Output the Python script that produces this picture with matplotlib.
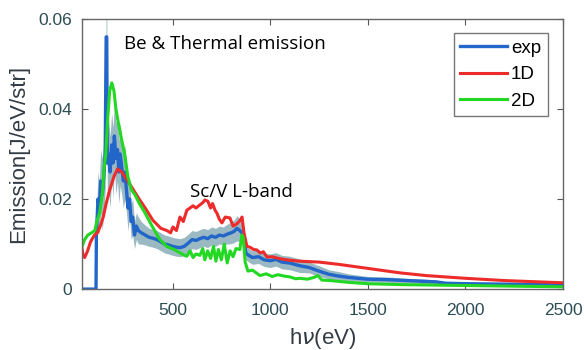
import numpy as np
import matplotlib
matplotlib.use("Agg")
import matplotlib.pyplot as plt

# measured spectrum (exp) and its error band
exp_x = [35, 108, 110, 118, 125, 132, 140, 148, 155, 160, 163, 166, 172, 180, 188, 195, 202, 210,
         218, 225, 232, 240, 248, 256, 264, 272, 280, 288, 296, 305, 315, 325, 340, 360, 380, 400,
         420, 440, 460, 480, 500, 520, 540, 560, 580, 600, 620, 640, 660, 680, 700, 720, 740, 760,
         780, 800, 815, 830, 845, 855, 865, 875, 890, 910, 940, 970, 1000, 1030, 1060, 1100, 1150,
         1200, 1250, 1300, 1350, 1400, 1500, 1600, 1700, 1800, 1850, 1900, 2000, 2200, 2500]
exp_y = [0, 0, 0.012, 0.020, 0.018, 0.024, 0.021, 0.025, 0.030, 0.056, 0.056, 0.028, 0.030, 0.026,
         0.032, 0.028, 0.034, 0.029, 0.031, 0.026, 0.030, 0.027, 0.024, 0.026, 0.022, 0.018, 0.020,
         0.015, 0.016, 0.012, 0.014, 0.013, 0.0125, 0.012, 0.0115, 0.0113, 0.011, 0.0105, 0.010,
         0.0098, 0.0095, 0.0093, 0.0092, 0.0095, 0.0102, 0.011, 0.0108, 0.0112, 0.0115, 0.0112,
         0.0118, 0.0115, 0.012, 0.0118, 0.0122, 0.0125, 0.0128, 0.0135, 0.013, 0.0125, 0.012,
         0.008, 0.0075, 0.007, 0.0072, 0.0065, 0.0063, 0.0066, 0.006, 0.0058, 0.0052, 0.0048,
         0.004, 0.0033, 0.0029, 0.0026, 0.0022, 0.0021, 0.0019, 0.0017, 0.0016, 0.0013, 0.0012,
         0.0011, 0.001]
exp_err = [0, 0, 0.004, 0.006, 0.006, 0.007, 0.008, 0.008, 0.008, 0.006, 0.006, 0.008, 0.008, 0.008,
           0.007, 0.008, 0.007, 0.008, 0.007, 0.007, 0.007, 0.006, 0.006, 0.006, 0.005, 0.005, 0.004,
           0.004, 0.004, 0.003, 0.003, 0.003, 0.0025, 0.0022, 0.002, 0.002, 0.002, 0.002, 0.002,
           0.002, 0.002, 0.002, 0.002, 0.002, 0.002, 0.002, 0.002, 0.002, 0.002, 0.002, 0.002,
           0.002, 0.002, 0.002, 0.0022, 0.0024, 0.0025, 0.0028, 0.0025, 0.002, 0.002, 0.0015,
           0.0015, 0.0015, 0.0015, 0.0015, 0.0015, 0.0015, 0.0015, 0.0015, 0.0015, 0.0012,
           0.0012, 0.001, 0.001, 0.0008, 0.0006, 0.0006, 0.0005, 0.0005, 0.0004, 0.0003, 0.0003,
           0.0003, 0.0003]

# 1D simulation
red_x = [35, 42, 50, 65, 80, 100, 115, 130, 145, 160, 178, 200, 218, 240, 271, 300, 332, 360, 399,
         440, 471, 490, 502, 520, 538, 555, 573, 589, 605, 620, 640, 655, 666, 681, 695, 705, 718,
         727, 740, 753, 770, 794, 810, 830, 845, 856, 866, 881, 897, 915, 932, 950, 965, 984, 1010,
         1035, 1070, 1102, 1150, 1250, 1350, 1500, 1666, 1800, 2000, 2200, 2500]
red_y = [0.0093, 0.0075, 0.007, 0.0085, 0.0105, 0.012, 0.0125, 0.014, 0.016, 0.019, 0.022, 0.025,
         0.0267, 0.026, 0.024, 0.022, 0.0198, 0.018, 0.0153, 0.0135, 0.013, 0.0125, 0.0138, 0.013,
         0.016, 0.015, 0.0175, 0.018, 0.0185, 0.018, 0.0187, 0.0192, 0.0198, 0.0195, 0.018, 0.019,
         0.0175, 0.0169, 0.0155, 0.0147, 0.016, 0.0158, 0.014, 0.0145, 0.0152, 0.016, 0.0125,
         0.0095, 0.0093, 0.0088, 0.0087, 0.008, 0.0083, 0.0071, 0.0072, 0.0069, 0.0066, 0.0064,
         0.0062, 0.006, 0.0055, 0.0046, 0.0036, 0.003, 0.0024, 0.0019, 0.0014]

# 2D simulation
grn_x = [35, 50, 66, 85, 102, 112, 127, 140, 150, 158, 168, 178, 189, 200, 210, 220, 240, 255, 271,
         290, 307, 330, 358, 395, 435, 470, 512, 540, 560, 573, 590, 605, 620, 640, 655, 665, 680,
         695, 710, 722, 735, 750, 765, 780, 795, 810, 825, 845, 855, 862, 872, 886, 910, 948, 980,
         1010, 1040, 1070, 1102, 1130, 1153, 1190, 1225, 1245, 1265, 1307, 1400, 1500, 1666, 2000,
         2500]
grn_y = [0.0093, 0.011, 0.012, 0.0125, 0.013, 0.015, 0.017, 0.021, 0.027, 0.030, 0.038, 0.044,
         0.0458, 0.044, 0.040, 0.0375, 0.033, 0.030, 0.025, 0.022, 0.021, 0.019, 0.017, 0.014,
         0.011, 0.0095, 0.0087, 0.008, 0.0075, 0.0073, 0.0085, 0.007, 0.0078, 0.0075, 0.009,
         0.0065, 0.0085, 0.0068, 0.0095, 0.0062, 0.0088, 0.0065, 0.010, 0.0058, 0.0085, 0.0072,
         0.009, 0.0088, 0.012, 0.0115, 0.006, 0.004, 0.0042, 0.003, 0.0034, 0.0028, 0.0032,
         0.0029, 0.0027, 0.0023, 0.0024, 0.0022, 0.0026, 0.003, 0.002, 0.0019, 0.0015, 0.0012,
         0.001, 0.0008, 0.0005]

labels = ["exp", "1D", "2D"]

fig = plt.figure(figsize=(5.84, 3.5), dpi=100)
ax = fig.add_axes([0.140, 0.174, 0.824, 0.772])

ex = np.array(exp_x)
ey = np.array(exp_y)
ee = np.array(exp_err)
ax.fill_between(ex, np.clip(ey - ee, 0, None), ey + ee, color="#7aa2ae", alpha=0.75, lw=0)
ax.plot(exp_x, exp_y, color="#2166c8", lw=2.4, label=labels[0])
ax.plot(red_x, red_y, color="#ee2b2b", lw=2.2, label=labels[1])
ax.plot(grn_x, grn_y, color="#22d822", lw=2.2, label=labels[2])

ax.set_xlim(35, 2500)
ax.set_ylim(0, 0.06)
ax.set_xticks([500, 1000, 1500, 2000, 2500])
ax.set_yticks([0, 0.02, 0.04, 0.06])
ax.set_yticklabels(["0", "0.02", "0.04", "0.06"])
ax.tick_params(direction="in", top=True, right=True, length=4, color="#555555",
               labelsize=12.5, labelcolor="#2d4d55")
ax.tick_params(axis="x", pad=10)
ax.tick_params(axis="y", pad=7)
for lbl in ax.get_xticklabels() + ax.get_yticklabels():
    lbl.set_family("Liberation Sans")
for s in ax.spines.values():
    s.set_color("#666666")
    s.set_linewidth(1.0)

ax.set_ylabel("Emission[J/eV/str]", fontsize=16, color="#333c44", family="Liberation Sans")
ax.yaxis.set_label_coords(-0.11, 0.5)
ax.set_xlabel("h$\\nu$(eV)", fontsize=16, color="#333c44", family="Liberation Sans")
ax.xaxis.set_label_coords(0.5, -0.135)

ax.text(250, 0.0545, "Be & Thermal emission", fontsize=13.5, family="Open Sans", va="center")
ax.text(589, 0.0216, "Sc/V L-band", fontsize=13.5, family="Open Sans", va="center")

leg = ax.legend(loc="upper right", bbox_to_anchor=(0.968, 0.948), fontsize=13.5, handlelength=2.5,
                frameon=True, fancybox=False, borderpad=0.35, labelspacing=0.5, handletextpad=0.2,
                borderaxespad=0)
leg.get_frame().set_edgecolor("#555555")
leg.get_frame().set_linewidth(1.0)
for t in leg.get_texts():
    t.set_family("Liberation Sans")

fig.savefig("out.png", dpi=100)
